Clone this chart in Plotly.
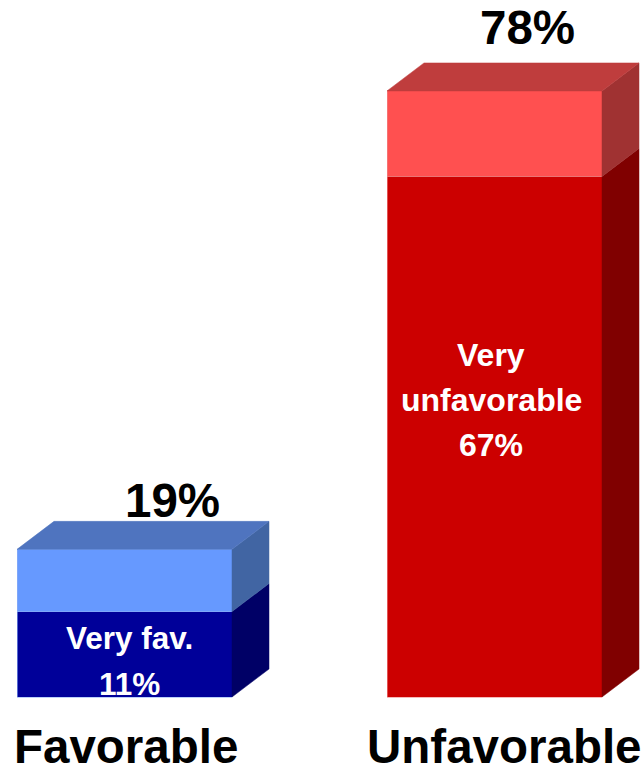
import plotly.graph_objects as go

# Data
categories = ["Favorable", "Unfavorable"]
strong_values = [11, 67]
total_values = [19, 78]
strong_labels = [["Very fav.", "11%"], ["Very", "unfavorable", "67%"]]

# Styles per category
front_strong = ["#000099", "#CC0000"]
front_soft = ["#6699FF", "#FF5050"]
top_soft = ["#4F74BF", "#BF3D3D"]
side_soft = ["#4165A3", "#A03232"]
side_strong = ["#000066", "#800000"]
edge_colors = ["#8FB0F5", "#F08A8A"]

W, H = 644, 767
BASE_PX = 697
PX_PER_UNIT = 7.77
PX_PER_CAT = 370
CENTER0_PX = 124.5
BAR_W = 215 / PX_PER_CAT
DX = 37 / PX_PER_CAT
DY = 28 / PX_PER_UNIT

fig = go.Figure()
soft_values = [t - s for t, s in zip(total_values, strong_values)]
xs = list(range(len(categories)))


def face(xvals, yvals, color):
    fig.add_trace(go.Scatter(x=xvals, y=yvals, mode="lines", fill="toself",
                             fillcolor=color, line=dict(color=color, width=0.5),
                             hoverinfo="skip", showlegend=False))


for i, x in enumerate(xs):
    r = x + BAR_W / 2
    l = x - BAR_W / 2
    s, t = strong_values[i], total_values[i]
    face([r, r + DX, r + DX, r, r], [0, DY, s + DY, s, 0], side_strong[i])
    face([r, r + DX, r + DX, r, r], [s, s + DY, t + DY, t, s], side_soft[i])
    face([l, r, r + DX, l + DX, l], [t, t, t + DY, t + DY, t], top_soft[i])

fig.add_trace(go.Bar(x=xs, y=strong_values, width=BAR_W, marker=dict(color=front_strong, line=dict(color=edge_colors, width=0.6)),
                     showlegend=False, hoverinfo="skip"))
fig.add_trace(go.Bar(x=xs, y=soft_values, width=BAR_W, marker=dict(color=front_soft, line=dict(color=edge_colors, width=0.6)),
                     showlegend=False, hoverinfo="skip"))


def label(text, px, py, size, color="#000000", height=None):
    fig.add_annotation(text=f"<b>{text}</b>", x=px / W, y=1 - py / H, xref="paper", yref="paper",
                       xanchor="center", yanchor="middle", showarrow=False, height=height,
                       font=dict(family="Liberation Sans", size=size, color=color))


# Category captions and totals
for name, px in zip(categories, [125.5, 504]):
    label(name, px, 746, 47.5, height=38)
for total, px, py in zip(total_values, [172, 527], [500, 28]):
    label(f"{total}%", px, py, 47.5)

# Inner labels
for text, py in zip(strong_labels[0], [638, 684]):
    label(text, 129, py, 31.5, "#FFFFFF")
for text, py in zip(strong_labels[1], [355, 400, 445]):
    label(text, 491, py, 32, "#FFFFFF")

fig.update_layout(
    barmode="stack", width=W, height=H, autosize=False,
    margin=dict(l=0, r=0, t=0, b=0),
    paper_bgcolor="white", plot_bgcolor="white",
    xaxis=dict(range=[-CENTER0_PX / PX_PER_CAT, (W - CENTER0_PX) / PX_PER_CAT], visible=False, fixedrange=True),
    yaxis=dict(range=[-(H - BASE_PX) / PX_PER_UNIT, BASE_PX / PX_PER_UNIT], visible=False, fixedrange=True),
)
fig.write_html("out.html", config={"displayModeBar": False},
               post_script="document.body.style.margin='0';document.body.style.overflow='hidden';")
